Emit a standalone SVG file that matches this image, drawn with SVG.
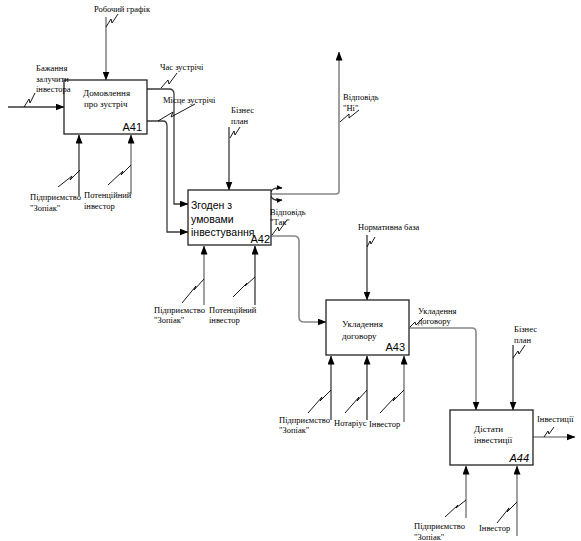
<svg xmlns="http://www.w3.org/2000/svg" width="581" height="541" viewBox="0 0 581 541">
<defs>
<marker id="ar" markerWidth="9" markerHeight="7" refX="8.5" refY="3.5" orient="auto" markerUnits="userSpaceOnUse">
<path d="M0,0 L9,3.5 L0,7 Z" fill="#000"/>
</marker>
<marker id="sa" markerWidth="6" markerHeight="5" refX="5.5" refY="2.5" orient="auto" markerUnits="userSpaceOnUse">
<path d="M0,0 L6,2.5 L0,5 Z" fill="#000"/>
</marker>
</defs>
<style>
.box{fill:#fff;stroke:#222;stroke-width:1.3}
.c{fill:none;stroke:#3a3a3a;stroke-width:1.3}
.g{fill:none;stroke:#888;stroke-width:1.6}
.sq{fill:none;stroke:#000;stroke-width:0.9}
.t{font-family:"Liberation Serif",serif;font-size:8.5px;fill:#000}
.bt{font-family:"Liberation Serif",serif;font-size:9px;fill:#000}
.n{font-family:"Liberation Sans",Arial,sans-serif;font-size:11px;fill:#000}
.bb{font-family:"Liberation Sans",Arial,sans-serif;font-size:10.5px;fill:#000}
</style>
<g id="connectors">
<!-- A41 -->
<path class="c" d="M8,107 H64" marker-end="url(#ar)"/>
<path class="g" d="M106,17 V80" marker-end="url(#ar)"/>
<path class="c" d="M79,196 V135" marker-end="url(#ar)"/>
<path class="g" d="M131,194 V135" marker-end="url(#ar)"/>
<path class="c" d="M147,89 H169 Q174,89 174,94 V204 H188" marker-end="url(#ar)"/>
<path class="c" d="M147,121 H163 Q167,121 167,126 V232 H188" marker-end="url(#ar)"/>
<!-- A42 -->
<path class="c" d="M229,127 V190" marker-end="url(#ar)"/>
<path class="g" d="M204,305 V246" marker-end="url(#ar)"/>
<path class="c" d="M255,305 V246" marker-end="url(#ar)"/>
<path class="g" d="M271,194 H336 Q339,194 339,191 V52" marker-end="url(#ar)"/>
<path class="c" d="M271,192 Q272,187 282,188" marker-end="url(#sa)"/>
<path class="c" d="M271,196 Q272,201 282,200" marker-end="url(#sa)"/>
<path class="g" d="M271,236 H294 Q299,236 299,241 V317 Q299,322 304,322 H326" marker-end="url(#ar)"/>
<!-- A43 -->
<path class="c" d="M367,235 V300" marker-end="url(#ar)"/>
<path class="c" d="M331,420 V356" marker-end="url(#ar)"/>
<path class="c" d="M367,420 V356" marker-end="url(#ar)"/>
<path class="g" d="M404,422 V356" marker-end="url(#ar)"/>
<path class="g" d="M409,328 H472 Q476,328 476,332 V410" marker-end="url(#ar)"/>
<!-- A44 -->
<path class="c" d="M513,345 V410" marker-end="url(#ar)"/>
<path class="g" d="M466,518 V466" marker-end="url(#ar)"/>
<path class="g" d="M517,536 V466" marker-end="url(#ar)"/>
<path class="g" d="M533,437 H575" marker-end="url(#ar)"/>
<!-- squiggles -->
<path class="sq" d="M106,27 L111,19 L112,23 L118,14"/>
<path class="sq" d="M24,107 L29,99 L30,103 L35,93"/>
<path class="sq" d="M161,88 L168,80 L169,84 L177,73"/>
<path class="sq" d="M158,121 L173,112 L171,117 L195,104"/>
<path class="sq" d="M80,170 L70,180 L72,176 L58,187"/>
<path class="sq" d="M131,165 L121,175 L123,171 L108,185"/>
<path class="sq" d="M230,138 L234,131 L235,135 L240,127"/>
<path class="sq" d="M340,122 L349,114 L349,118 L359,110"/>
<path class="sq" d="M272,235 L278,227 L279,231 L287,220"/>
<path class="sq" d="M204,279 L194,290 L196,286 L182,303"/>
<path class="sq" d="M255,277 L245,286 L247,283 L233,297"/>
<path class="sq" d="M367,247 L370,241 L371,244 L375,237"/>
<path class="sq" d="M410,327 L415,322 L416,325 L423,318"/>
<path class="sq" d="M331,390 L320,401 L322,397 L308,413"/>
<path class="sq" d="M367,390 L357,401 L359,397 L345,413"/>
<path class="sq" d="M404,390 L393,401 L395,397 L380,413"/>
<path class="sq" d="M513,358 L518,351 L519,354 L525,345"/>
<path class="sq" d="M544,437 L548,431 L549,434 L554,427"/>
<path class="sq" d="M466,500 L456,508 L458,505 L445,517"/>
<path class="sq" d="M517,502 L507,512 L509,508 L497,523"/>
</g>
<g id="A41">
<rect class="box" x="64" y="80" width="83" height="54"/>
<text class="bt" x="83" y="96">Домовлення</text>
<text class="bt" x="84" y="107">про зустріч</text>
<text class="n" x="142" y="131" text-anchor="end">A41</text>
</g>
<g id="A42">
<rect class="box" x="188" y="190" width="83" height="55"/>
<text class="bb" x="191" y="209">Згоден з</text>
<text class="bb" x="191" y="223">умовами</text>
<text class="bb" x="191" y="236" font-size="10">інвестування</text>
<text class="n" x="270" y="243" text-anchor="end" font-size="10">A42</text>
</g>
<g id="A43">
<rect class="box" x="326" y="300" width="83" height="55"/>
<text class="bt" x="342" y="327">Укладення</text>
<text class="bt" x="342" y="339">договору</text>
<text class="n" x="405" y="351" text-anchor="end">A43</text>
</g>
<g id="A44">
<rect class="box" x="450" y="410" width="83" height="55"/>
<text class="bt" x="474" y="432">Дістати</text>
<text class="bt" x="474" y="443">інвестиції</text>
<text class="n" x="529" y="462" text-anchor="end" font-style="italic">A44</text>
</g>
<g id="labels">
<text class="t" x="122" y="12" text-anchor="middle">Робочий графік</text>
<text class="t" x="36" y="71">Бажання</text>
<text class="t" x="36" y="82">залучити</text>
<text class="t" x="36" y="92">інвестора</text>
<text class="t" x="160" y="70">Час зустрічі</text>
<text class="t" x="163" y="103">Місце зустрічі</text>
<text class="t" x="30" y="200">Підприємство</text>
<text class="t" x="30" y="211">"Зопіак"</text>
<text class="t" x="84" y="198">Потенційний</text>
<text class="t" x="84" y="209">інвестор</text>
<text class="t" x="231" y="113">Бізнес</text>
<text class="t" x="231" y="124">план</text>
<text class="t" x="343" y="100">Відповідь</text>
<text class="t" x="343" y="111">"Ні"</text>
<text class="t" x="270" y="215">Відповідь</text>
<text class="t" x="270" y="225">"Так"</text>
<text class="t" x="154" y="313">Підприємство</text>
<text class="t" x="154" y="323">"Зопіак"</text>
<text class="t" x="209" y="313">Потенційний</text>
<text class="t" x="209" y="323">інвестор</text>
<text class="t" x="358" y="230">Нормативна база</text>
<text class="t" x="418" y="314">Укладення</text>
<text class="t" x="418" y="324">договору</text>
<text class="t" x="279" y="423">Підприємство</text>
<text class="t" x="279" y="433">"Зопіак"</text>
<text class="t" x="334" y="426">Нотаріус</text>
<text class="t" x="369" y="427">Інвестор</text>
<text class="t" x="514" y="332">Бізнес</text>
<text class="t" x="514" y="343">план</text>
<text class="t" x="537" y="422">Інвестиції</text>
<text class="t" x="414" y="529">Підприємство</text>
<text class="t" x="414" y="540">"Зопіак"</text>
<text class="t" x="479" y="531">Інвестор</text>
</g>
</svg>
